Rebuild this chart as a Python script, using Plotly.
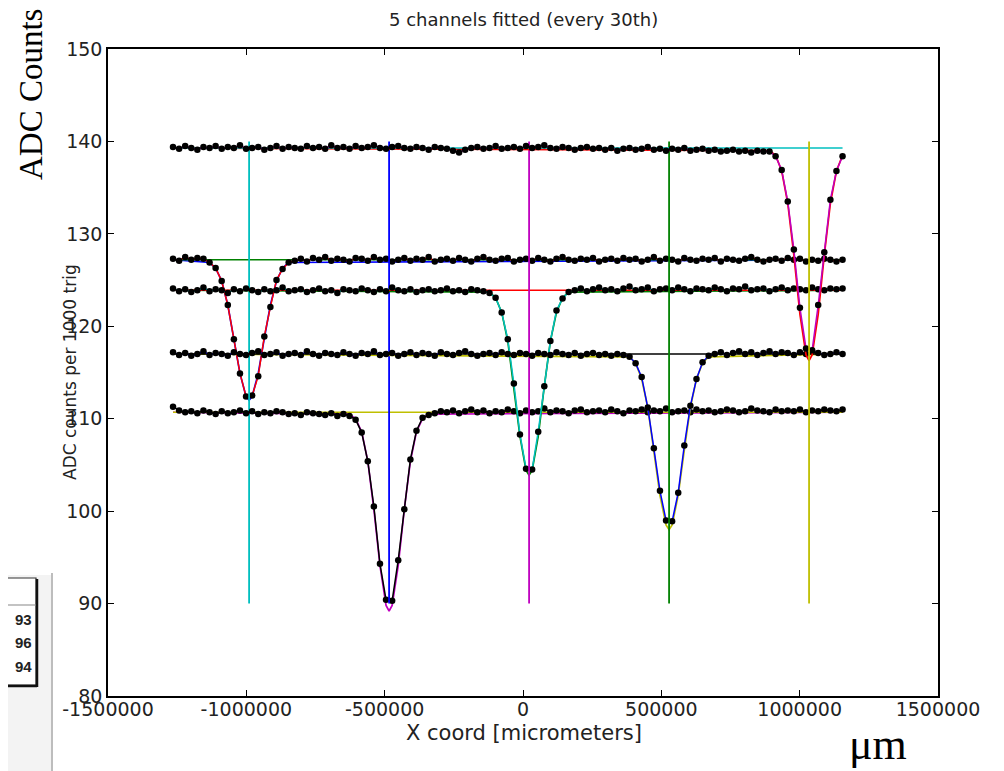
import plotly.graph_objects as go

# ---------------- data ----------------
# sample positions (in thousands of micrometers)
X_KUM = [-1265, -1243, -1221, -1199, -1177, -1155, -1133, -1111, -1089, -1067,
         -1045, -1023, -1001, -979, -957, -935, -913, -891, -869, -847,
         -825, -803, -781, -759, -737, -715, -693, -671, -649, -627,
         -605, -583, -561, -539, -517, -495, -473, -451, -429, -407,
         -385, -363, -341, -319, -297, -275, -253, -231, -209, -187,
         -165, -143, -121, -99, -77, -55, -33, -11, 11, 33,
         55, 77, 99, 121, 143, 165, 187, 209, 231, 253,
         275, 297, 319, 341, 363, 385, 407, 429, 451, 473,
         495, 517, 539, 561, 583, 605, 627, 649, 671, 693,
         715, 737, 759, 781, 803, 825, 847, 869, 891, 913,
         935, 957, 979, 1001, 1023, 1045, 1067, 1089, 1111, 1133,
         1155]

CH_A = [127.3, 127.1, 127.5, 127.2, 127.4, 127.3, 126.9, 126.3, 124.9, 122.3,
        118.6, 114.9, 112.4, 112.5, 114.6, 118.9, 122.1, 125.0, 126.2, 126.9,
        127.1, 127.3, 127.0, 127.4, 127.2, 127.5, 127.1, 127.3, 127.2, 127.0,
        127.4, 127.3, 127.1, 127.5, 127.2, 127.3, 127.0, 127.2, 127.4, 127.1,
        127.3, 127.2, 127.5, 127.0, 127.2, 127.3, 127.1, 127.4, 127.2, 127.0,
        127.3, 127.5, 127.2, 127.1, 127.3, 127.4, 127.0, 127.2, 127.3, 127.1,
        127.4, 127.2, 127.0, 127.3, 127.5, 127.2, 127.1, 127.3, 127.2, 127.4,
        127.0, 127.2, 127.3, 127.1, 127.4, 127.2, 127.3, 127.0, 127.2, 127.5,
        127.1, 127.3, 127.2, 127.0, 127.4, 127.2, 127.1, 127.3, 127.2, 127.4,
        127.0, 127.3, 127.2, 127.1, 127.3, 127.5, 127.2, 127.0, 127.2, 127.3,
        127.1, 127.4, 127.2, 127.3, 127.0, 127.2, 127.1, 127.3, 127.2, 127.0,
        127.2]

CH_B = [111.3, 110.9, 110.7, 110.8, 110.6, 110.9, 110.7, 110.5, 110.8, 110.6,
        110.7, 110.9, 110.6, 110.8, 110.5, 110.7, 110.6, 110.8, 110.7, 110.5,
        110.6, 110.4, 110.7, 110.6, 110.5, 110.4, 110.6, 110.3, 110.5,
        110.3, 109.9, 108.5, 105.4, 100.5, 94.3, 90.4, 90.3, 94.7, 100.2,
        105.6, 108.7, 110.1, 110.4,
        110.6, 110.8, 110.7, 110.9, 110.6, 110.8, 111.0, 110.7, 110.9, 110.6,
        110.8, 110.7, 111.0, 110.8, 110.6, 110.9, 110.7, 110.8, 111.1, 110.7,
        110.9, 110.8, 110.6, 110.9, 111.0, 110.7, 110.8, 110.9, 110.7, 111.0,
        110.8, 110.6, 110.9, 110.8, 111.0, 110.7, 110.9, 110.8, 111.1, 110.7,
        110.8, 110.9, 110.7, 111.0, 110.8, 110.9, 110.7, 110.8, 111.0, 110.9,
        110.7, 110.8, 111.1, 110.9, 110.8, 110.7, 111.0, 110.8, 110.9, 110.8,
        111.0, 110.7, 110.9, 110.8, 111.0, 110.9, 110.8, 111.0]

CH_C = [124.1, 123.8, 124.0, 123.7, 123.9, 124.2, 123.8, 124.0, 123.9, 123.6,
        124.0, 123.8, 124.1, 123.9, 123.7, 124.0, 123.8, 123.9, 124.2, 123.8,
        123.9, 124.0, 123.7, 123.9, 124.1, 123.8, 123.9, 123.6, 124.0, 123.9,
        123.8, 124.1, 123.9, 123.7, 124.0, 123.8, 124.2, 123.9, 123.8, 124.0,
        123.7, 123.9, 124.0, 123.8, 123.9, 124.1, 123.8, 123.9, 123.7, 124.0,
        123.9, 123.8,
        123.6, 123.1, 121.5, 118.6, 113.8, 108.3, 104.6, 104.5, 108.6, 113.5,
        118.4, 121.7, 123.0, 123.7,
        123.9, 124.1, 123.8, 124.0, 124.2, 123.9, 124.0, 123.8, 124.1, 124.3,
        123.9, 124.0, 124.2, 123.8, 124.0, 124.1, 123.9, 124.2, 124.0, 123.8,
        124.1, 124.0, 123.9, 124.2, 124.0, 123.8, 124.1, 124.0, 124.3, 123.9,
        124.0, 124.1, 123.8, 124.0, 124.2, 123.9, 124.1, 124.0, 123.9, 124.2,
        124.0, 123.9, 124.1, 124.0, 124.1]

CH_D = [117.2, 116.9, 117.1, 116.8, 117.0, 117.3, 116.9, 117.1, 117.0, 116.8,
        117.2, 117.0, 116.9, 117.1, 117.3, 116.9, 117.0, 117.2, 116.8, 117.0,
        117.1, 116.9, 117.3, 117.0, 116.8, 117.1, 117.0, 116.9, 117.2, 117.0,
        116.8, 117.1, 117.0, 117.3, 116.9, 117.0, 117.1, 116.8, 117.0, 117.2,
        116.9, 117.1, 117.0, 116.8, 117.2, 117.0, 116.9, 117.1, 117.3, 117.0,
        116.8, 117.0, 117.1, 116.9, 117.2, 117.0, 116.9, 117.1, 117.0, 116.8,
        117.1, 117.0, 116.9, 117.2, 117.0, 116.9, 117.1, 116.8, 117.0, 117.1,
        116.9, 117.0, 116.8, 117.0, 116.9,
        116.7, 116.0, 114.5, 111.2, 106.8, 102.2, 99.0, 98.9, 102.0, 107.1,
        111.4, 114.3, 116.1, 116.8,
        117.0, 117.2, 116.9, 117.1, 117.3, 117.0, 117.2, 116.9, 117.1, 117.3,
        117.0, 117.2, 117.1, 116.9, 117.2, 117.0, 117.3, 117.1, 116.9, 117.0,
        117.2, 117.0]

CH_E = [139.4, 139.2, 139.5, 139.3, 139.1, 139.4, 139.3, 139.5, 139.2, 139.4,
        139.3, 139.6, 139.2, 139.3, 139.4, 139.1, 139.3, 139.5, 139.2, 139.4,
        139.3, 139.2, 139.5, 139.3, 139.4, 139.2, 139.6, 139.3, 139.4, 139.2,
        139.5, 139.3, 139.4, 139.6, 139.3, 139.2, 139.4, 139.5, 139.3, 139.2,
        139.4, 139.3, 139.1, 139.4, 139.3, 139.2, 139.0, 138.8, 139.1, 139.3,
        139.4, 139.2, 139.3, 139.5, 139.2, 139.3, 139.4, 139.2, 139.5, 139.3,
        139.4, 139.6, 139.3, 139.2, 139.4, 139.3, 139.1, 139.3, 139.4, 139.2,
        139.3, 139.1, 139.3, 139.0, 139.2, 139.3, 139.1, 139.2, 139.4, 139.1,
        139.2, 139.0, 139.2, 139.1, 139.3, 139.0, 139.1, 139.2, 139.0, 139.1,
        138.9, 139.0, 139.1, 138.9, 139.0, 138.8, 139.0, 138.9,
        138.9, 138.4, 136.9, 133.5, 128.3, 122.0, 117.6, 117.4, 122.3, 128.0,
        133.7, 136.8, 138.4]

# fitted centres [um], baselines and fitted curve values around each centre
CENTERS = [-990000, -484000, 22000, 528000, 1034000]
BASELINES = [127.2, 110.7, 123.9, 117.0, 139.3]
FIT_OFFSETS_KUM = [-143, -121, -99, -77, -55, -33, -11, 0, 11, 33, 55, 77, 99, 121, 143]
FIT_A = [126.9, 126.3, 124.9, 122.3, 118.7, 114.9, 112.4, 112.0, 112.4, 114.9, 118.7, 122.3, 124.9, 126.3, 126.9]
FIT_B = [110.5, 110.0, 108.6, 105.4, 100.2, 94.1, 89.8, 89.2, 89.8, 94.1, 100.2, 105.4, 108.6, 110.0, 110.5]
FIT_C = [123.7, 123.1, 121.5, 118.4, 113.5, 108.1, 104.4, 103.9, 104.4, 108.1, 113.5, 118.4, 121.5, 123.1, 123.7]
FIT_D = [116.7, 116.0, 114.3, 111.2, 106.6, 101.7, 98.5, 98.0, 98.5, 101.7, 106.6, 111.2, 114.3, 116.0, 116.7]
FIT_E = [139.0, 138.5, 136.8, 133.3, 127.7, 121.3, 116.9, 116.3, 116.9, 121.3, 127.7, 133.3, 136.8, 138.5, 139.0]
VLINE_Y = [90, 140]

X_TICKS = [-1500000, -1000000, -500000, 0, 500000, 1000000, 1500000]
X_TICKTEXT = ["-1500000", "-1000000", "-500000", "0", "500000", "1000000", "1500000"]
Y_TICKS = [80, 90, 100, 110, 120, 130, 140, 150]

TITLE = "5 channels fitted (every 30th)"
X_LABEL = "X coord [micrometers]"
Y_LABEL = "ADC counts per 1000 trig"

# ---------------- styling ----------------
B, G, R, C, M, Y, K = "#0000ff", "#008000", "#ff0000", "#00bfbf", "#bf00bf", "#bfbf00", "#000000"
# (fit, baseline, data line, centre line) colours per channel, as in the matplotlib colour cycle
COLORS = [(B, G, R, C), (M, Y, K, B), (G, R, C, M), (Y, K, B, G), (R, C, M, Y)]

# The page body has an 8 px margin, so the figure is drawn 8 px smaller and the
# screen layout below is given in window pixels.
BODY = 8
W, H = 1004 - BODY, 771 - BODY
PL, PR, PT, PB = 108, 938, 49, 696          # plot area in window pixels
PW, PH = PR - PL, PB - PT
L, T = PL - BODY, PT - BODY
RM, BM = W - L - PW, H - T - PH


def px(xp):
    return (xp - PL) / PW


def py(yp):
    return (PB - yp) / PH


X = [v * 1000 for v in X_KUM]
channels = [CH_A, CH_B, CH_C, CH_D, CH_E]
fits = [FIT_A, FIT_B, FIT_C, FIT_D, FIT_E]

fig = go.Figure()
for ch, fit, c0, base, cols in zip(channels, fits, CENTERS, BASELINES, COLORS):
    fc, hc, dc, vc = cols
    fx = [c0 + o * 1000 for o in FIT_OFFSETS_KUM]
    pairs = [(a, b) for a, b in zip(fx, fit) if X[0] <= a <= X[-1]]
    fxx = [p[0] for p in pairs]
    fyy = [p[1] for p in pairs]
    if fxx[0] > X[0]:
        fxx = [X[0]] + fxx
        fyy = [base] + fyy
    if fxx[-1] < X[-1]:
        fxx = fxx + [X[-1]]
        fyy = fyy + [base]
    fig.add_trace(go.Scatter(x=fxx, y=fyy, mode="lines", line=dict(color=fc, width=1.7),
                             hoverinfo="skip"))
    fig.add_trace(go.Scatter(x=[X[0], X[-1]], y=[base, base], mode="lines",
                             line=dict(color=hc, width=1.5), hoverinfo="skip"))
    fig.add_trace(go.Scatter(x=X, y=ch, mode="lines+markers",
                             line=dict(color=dc, width=1.5),
                             marker=dict(color="black", size=6.5, symbol="circle")))
    fig.add_trace(go.Scatter(x=[c0, c0], y=VLINE_Y, mode="lines",
                             line=dict(color=vc, width=1.8), hoverinfo="skip"))

tickfont = dict(family="DejaVu Sans", size=19, color="#222222")
fig.update_xaxes(range=[-1500000, 1500000], tickvals=X_TICKS, ticktext=X_TICKTEXT,
                 showgrid=False, zeroline=False, showline=True, linecolor="black",
                 linewidth=1.5, mirror="ticks", ticks="inside", ticklen=6,
                 tickcolor="black", tickfont=tickfont, ticklabelstandoff=-5)
fig.update_yaxes(range=[80, 150], tickvals=Y_TICKS, showgrid=False, zeroline=False,
                 showline=True, linecolor="black", linewidth=1.5, mirror="ticks",
                 ticks="inside", ticklen=6, tickcolor="black", tickfont=tickfont)

shapes = [
    # light grey panel and separator at the left edge
    dict(type="rect", xref="paper", yref="paper", x0=px(0), x1=px(52), y0=py(575), y1=py(771),
         fillcolor="#f3f3f3", line=dict(width=0), layer="below"),
    dict(type="line", xref="paper", yref="paper", x0=px(52), x1=px(52), y0=py(573), y1=py(771),
         line=dict(color="#bdbdbd", width=2)),
    # partial table box
    dict(type="rect", xref="paper", yref="paper", x0=px(0), x1=px(36), y0=py(685), y1=py(578),
         fillcolor="white", line=dict(color="#333333", width=1.2)),
    dict(type="line", xref="paper", yref="paper", x0=px(37), x1=px(37), y0=py(687), y1=py(579),
         line=dict(color="#111111", width=2.5)),
    dict(type="line", xref="paper", yref="paper", x0=px(0), x1=px(37), y0=py(686), y1=py(686),
         line=dict(color="#111111", width=2.5)),
    dict(type="line", xref="paper", yref="paper", x0=px(0), x1=px(36), y0=py(605), y1=py(605),
         line=dict(color="#888888", width=1.2)),
]

ann = [
    dict(text=X_LABEL, x=px(524), y=py(733), xref="paper", yref="paper", showarrow=False,
         font=dict(family="DejaVu Sans", size=21, color="#222222"), yanchor="middle"),
    dict(text=Y_LABEL, x=px(70), y=py(372), xref="paper", yref="paper", showarrow=False,
         textangle=-90, font=dict(family="DejaVu Sans", size=17, color="#222222"),
         xanchor="center", yanchor="middle"),
    dict(text=TITLE, x=px(523), y=py(19), xref="paper", yref="paper", showarrow=False,
         font=dict(family="DejaVu Sans", size=18, color="#222222"), yanchor="middle"),
    dict(text="ADC Counts", x=px(31), y=py(95), xref="paper", yref="paper", showarrow=False,
         textangle=-90, font=dict(family="Liberation Serif", size=33, color="black"),
         xanchor="center", yanchor="middle"),
    dict(text="\u03bcm", x=px(878), y=py(744), xref="paper", yref="paper", showarrow=False,
         font=dict(family="Liberation Serif", size=44, color="black"),
         xanchor="center", yanchor="middle"),
]
for txt, yy in [("93", 619), ("96", 642), ("94", 666)]:
    ann.append(dict(text="<b>" + txt + "</b>", x=px(34), y=py(yy), xref="paper", yref="paper",
                    showarrow=False, xanchor="right", yanchor="middle",
                    font=dict(family="Liberation Sans", size=15, color="#222222")))

fig.update_layout(width=W, height=H, margin=dict(l=L, r=RM, t=T, b=BM),
                  paper_bgcolor="white", plot_bgcolor="white", showlegend=False,
                  shapes=shapes, annotations=ann)

fig.write_html("out.html")
